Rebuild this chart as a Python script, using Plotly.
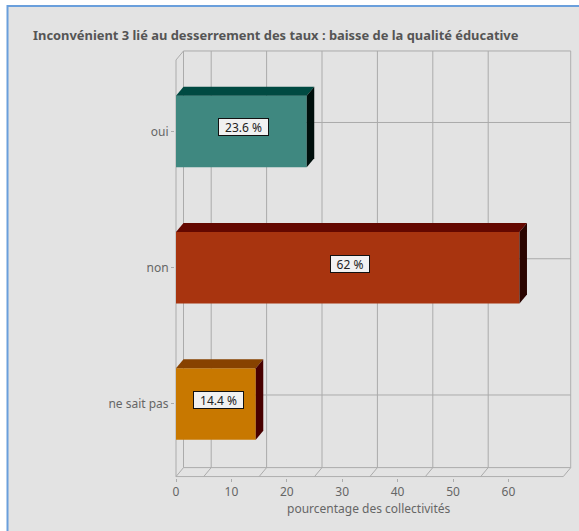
import plotly.graph_objects as go

TITLE = "Inconvénient 3 lié au desserrement des taux : baisse de la qualité éducative"
AXIS_TITLE = "pourcentage des collectivités"
categories = ["oui", "non", "ne sait pas"]
values = [23.6, 62, 14.4]
labels = ["23.6 %", "62 %", "14.4 %"]
front_colors = ["#3f8880", "#a8340f", "#c87800"]
top_colors = ["#004a42", "#640800", "#874200"]
side_colors = ["#000f0c", "#2a0500", "#480000"]
x_ticks = [0, 10, 20, 30, 40, 50, 60]
back_grid_x = [5, 15, 25, 35, 45, 55]

W, H = 579, 531
PX_X = 5.54            # pixels per value unit
PX_Y = 136.25          # pixels per category step
X0_PX, Y0_PX = 176, 131.5
DX = 7.5 / PX_X        # depth of the 3D box in value units
DY = 9 / PX_Y          # depth of the 3D box in category units
BAR = 0.525
X_END = 69.9
Y_BOTTOM = 2.533
Y_TOP = -0.525
GRID = "#ababab"
FONT = "Noto Sans"

positions = list(range(len(categories)))
fig = go.Figure()

def line(x0, y0, x1, y1):
    fig.add_shape(type="line", x0=x0, y0=y0, x1=x1, y1=y1, layer="below",
                  line=dict(color=GRID, width=1))

# box frame: front edges, back wall, floor
line(0, Y_TOP, 0, Y_BOTTOM)
line(0, Y_BOTTOM, X_END, Y_BOTTOM)
line(DX, Y_TOP - DY, DX, Y_BOTTOM - DY)
line(DX, Y_TOP - DY, X_END + DX, Y_TOP - DY)
line(X_END + DX, Y_TOP - DY, X_END + DX, Y_BOTTOM - DY)
line(DX, Y_BOTTOM - DY, X_END + DX, Y_BOTTOM - DY)
line(0, Y_TOP, DX, Y_TOP - DY)
line(0, Y_BOTTOM, DX, Y_BOTTOM - DY)
line(X_END, Y_BOTTOM, X_END + DX, Y_BOTTOM - DY)
for gx in back_grid_x:
    line(gx + DX, Y_TOP - DY, gx + DX, Y_BOTTOM - DY)
    line(gx, Y_BOTTOM, gx + DX, Y_BOTTOM - DY)
for p in positions:
    line(DX, p - DY, X_END + DX, p - DY)

# front faces
fig.add_trace(go.Bar(y=positions, x=values, orientation="h", width=BAR,
                     marker=dict(color=front_colors, line=dict(width=0)),
                     hoverinfo="skip", showlegend=False))

# top and side faces
for p, v, ct, cs in zip(positions, values, top_colors, side_colors):
    t, b = p - BAR / 2, p + BAR / 2
    fig.add_trace(go.Scatter(x=[0, DX, v + DX, v, 0], y=[t, t - DY, t - DY, t, t],
                             mode="lines", fill="toself", fillcolor=ct,
                             line=dict(width=0, color=ct), hoverinfo="skip", showlegend=False))
    fig.add_trace(go.Scatter(x=[v, v + DX, v + DX, v, v], y=[t, t - DY, b - DY, b, t],
                             mode="lines", fill="toself", fillcolor=cs,
                             line=dict(width=0, color=cs), hoverinfo="skip", showlegend=False))

# value labels
for p, v, lab in zip(positions, values, labels):
    fig.add_annotation(x=v / 2, y=p, text=lab, showarrow=False, xshift=2.5, yshift=4,
                       font=dict(family=FONT, size=12, color="#222222"),
                       bgcolor="#f1f1f1", bordercolor="#111111", borderwidth=1,
                       width=5.5 * len(lab) + 16, height=16, borderpad=0)

pad_x, pad_y = 1 / PX_X, 1 / PX_Y
x_range = [-pad_x, X_END + DX + pad_x]
y_range = [Y_BOTTOM + pad_y, Y_TOP - DY - pad_y]
left = X0_PX + x_range[0] * PX_X
right = X0_PX + x_range[1] * PX_X
bottom = Y0_PX + y_range[0] * PX_Y
top = Y0_PX + y_range[1] * PX_Y

# panel
fig.add_shape(type="rect", xref="paper", yref="paper", x0=7.5 / W, x1=1.01, y0=-0.01, y1=1 - 6 / H,
              layer="below", fillcolor="#e3e3e3", line=dict(color="#6a9fdc", width=2))

fig.update_layout(
    width=W, height=H, autosize=False,
    margin=dict(l=0, r=0, t=0, b=0, autoexpand=False),
    paper_bgcolor="white", plot_bgcolor="rgba(0,0,0,0)",
    title=dict(text="<b>" + TITLE + "</b>", x=33 / W, xanchor="left", xref="paper",
               y=1 - 35 / H, yanchor="middle", yref="paper",
               font=dict(family=FONT, size=12.9, color="#555555")),
    xaxis=dict(domain=[left / W, right / W], range=x_range, tickvals=x_ticks,
               showgrid=False, zeroline=False, showline=False, ticks="outside",
               ticklen=3, tickcolor=GRID,
               tickfont=dict(family=FONT, size=12, color="#666666")),
    yaxis=dict(domain=[1 - bottom / H, 1 - top / H], range=y_range, tickmode="array",
               tickvals=positions, ticktext=categories, showgrid=False, zeroline=False,
               showline=False, ticks="outside", ticklen=3, tickcolor=GRID,
               tickfont=dict(family=FONT, size=12, color="#666666")),
)
fig.add_annotation(xref="paper", yref="paper", x=369 / W, y=1 - 508 / H, yanchor="middle",
                   text=AXIS_TITLE, showarrow=False,
                   font=dict(family=FONT, size=12, color="#666666"))

fig.write_html("out.html", config={"displayModeBar": False},
               post_script="document.body.style.margin='0';")
